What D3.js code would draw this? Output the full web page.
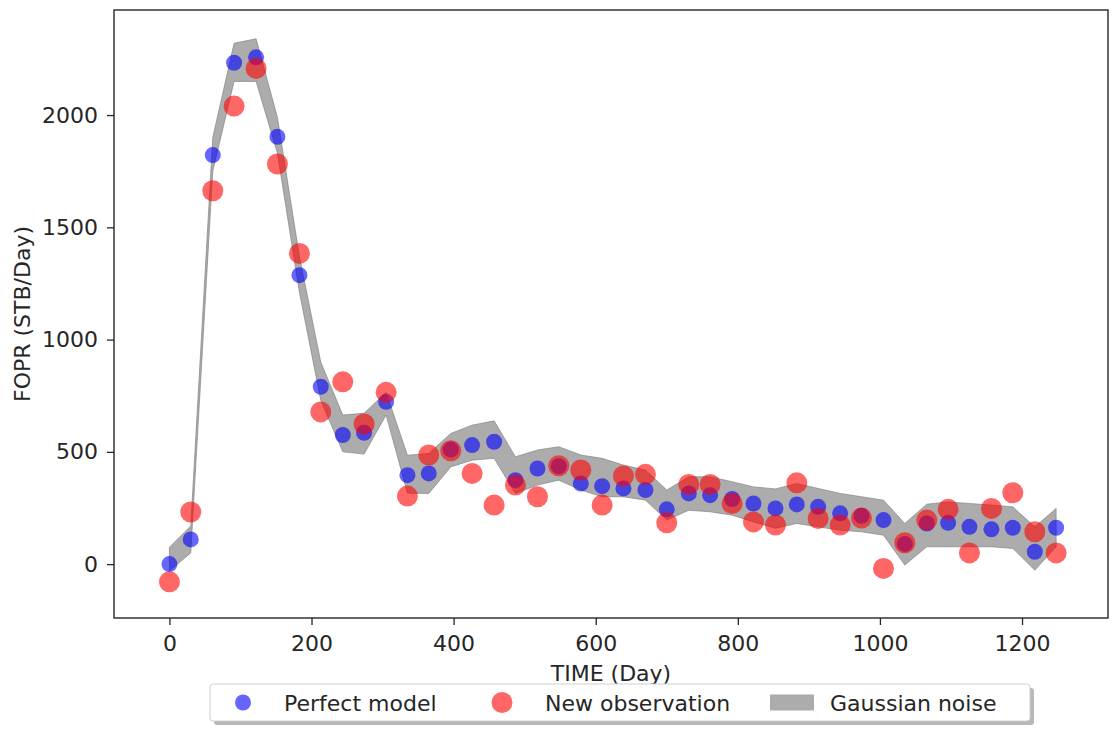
<!DOCTYPE html>
<html>
<head>
<meta charset="utf-8">
<script src="https://cdn.jsdelivr.net/npm/d3@7"></script>
<style>
  body { margin: 0; background: #fff; }
  text { font-family: "DejaVu Sans", sans-serif; fill: #262626; }
</style>
</head>
<body>
<svg id="chart"></svg>
<script>
// time axis (days) - roughly monthly report steps
const days = [0,30,61,91,122,152,183,213,244,274,305,335,365,396,426,457,487,518,548,579,609,639,670,700,731,761,792,822,853,883,913,944,974,1005,1035,1066,1096,1126,1157,1187,1218,1248]

// perfect model FOPR
const perfect = [0,110,1822,2233,2257,1903,1287,790,575,585,723,396,404,510,530,545,374,426,436,359,347,337,330,244,315,307,290,270,248,266,255,226,215,196,90,181,184,166,155,162,55,162]

// new observation FOPR
const observed = [-79,232,1663,2040,2208,1782,1384,678,812,624,765,303,486,505,404,263,352,300,438,419,263,393,400,184,355,355,270,188,174,362,203,174,205,-19,95,196,244,50,248,318,144,50]

// gaussian noise envelope
const noiseLow = [-30,50,1750,2150,2150,1830,1210,730,500,490,664,316,315,433,463,471,315,352,374,330,300,300,285,196,240,233,218,188,160,181,166,151,144,129,-4,77,77,77,77,70,-27,77]
const noiseHigh = [75,170,1900,2320,2340,1990,1370,900,664,672,765,485,493,582,619,638,478,508,523,486,471,441,419,330,389,389,367,344,335,359,337,315,300,285,181,267,277,270,263,255,166,248]

const xTicks = [0,200,400,600,800,1000,1200]
const yTicks = [0,500,1000,1500,2000]

const width = 1113
const height = 752
const margin = {left: 114, top: 10, right: 5, bottom: 134}
const fs = "22px"

let svg = d3.select("#chart")
    .attr("width", width)
    .attr("height", height)

let x = d3.scaleLinear().domain([-78, 1321]).range([margin.left, width - margin.right])
let y = d3.scaleLinear().domain([-240, 2468]).range([height - margin.bottom, margin.top])

// noise band
let area = d3.area()
    .x((d, i) => x(days[i]))
    .y0((d, i) => y(noiseLow[i]))
    .y1((d, i) => y(noiseHigh[i]))

svg.append("path")
    .datum(days)
    .attr("d", area)
    .attr("fill", "#808080")
    .attr("fill-opacity", 0.65)
    .attr("stroke", "#808080")
    .attr("stroke-opacity", 0.65)
    .attr("stroke-width", 1)

// perfect model points
svg.append("g").selectAll("circle")
    .data(perfect)
    .enter()
    .append("circle")
    .attr("cx", (d, i) => x(days[i]))
    .attr("cy", d => y(d))
    .attr("r", 8)
    .attr("fill", "blue")
    .attr("fill-opacity", 0.6)

// observation points
svg.append("g").selectAll("circle")
    .data(observed)
    .enter()
    .append("circle")
    .attr("cx", (d, i) => x(days[i]))
    .attr("cy", d => y(d))
    .attr("r", 10.5)
    .attr("fill", "red")
    .attr("fill-opacity", 0.6)

// axes
svg.append("g")
    .attr("transform", `translate(0,${height - margin.bottom})`)
    .call(d3.axisBottom(x).tickValues(xTicks).tickSize(7).tickPadding(10).tickFormat(d3.format("d")))
svg.append("g")
    .attr("transform", `translate(${margin.left},0)`)
    .call(d3.axisLeft(y).tickValues(yTicks).tickSize(7).tickPadding(9).tickFormat(d3.format("d")))

svg.selectAll(".domain").remove()
svg.selectAll(".tick line").attr("stroke", "#262626").attr("stroke-width", 1.3)
svg.selectAll(".tick text").style("font-size", fs).style("font-family", "DejaVu Sans").attr("fill", "#262626")

// frame
svg.append("rect")
    .attr("x", margin.left)
    .attr("y", margin.top)
    .attr("width", width - margin.right - margin.left)
    .attr("height", height - margin.bottom - margin.top)
    .attr("fill", "none")
    .attr("stroke", "#262626")
    .attr("stroke-width", 1.4)

// axis labels
let cx = (margin.left + width - margin.right) / 2
svg.append("text")
    .attr("x", cx)
    .attr("y", 681)
    .attr("text-anchor", "middle")
    .style("font-size", fs)
    .text("TIME (Day)")

svg.append("text")
    .attr("transform", `translate(30,${(margin.top + height - margin.bottom) / 2}) rotate(-90)`)
    .attr("text-anchor", "middle")
    .style("font-size", fs)
    .text("FOPR (STB/Day)")

// legend
const legX = 210, legY = 684, legW = 820, legH = 37
let leg = svg.append("g")
leg.append("rect")
    .attr("x", legX + 4).attr("y", legY + 4)
    .attr("width", legW).attr("height", legH)
    .attr("rx", 3)
    .attr("fill", "#888").attr("fill-opacity", 0.6)
leg.append("rect")
    .attr("x", legX).attr("y", legY)
    .attr("width", legW).attr("height", legH)
    .attr("rx", 3)
    .attr("fill", "#fff").attr("stroke", "#cfcfcf")

let ly = legY + legH / 2
leg.append("circle").attr("cx", legX + 33).attr("cy", ly).attr("r", 8).attr("fill", "blue").attr("fill-opacity", 0.6)
leg.append("text").attr("x", legX + 74).attr("y", ly + 8).style("font-size", fs).text("Perfect model")
leg.append("circle").attr("cx", legX + 292).attr("cy", ly).attr("r", 10.5).attr("fill", "red").attr("fill-opacity", 0.6)
leg.append("text").attr("x", legX + 335).attr("y", ly + 8).style("font-size", fs).text("New observation")
leg.append("rect").attr("x", legX + 560).attr("y", ly - 8).attr("width", 44).attr("height", 16).attr("fill", "#808080").attr("fill-opacity", 0.65)
leg.append("text").attr("x", legX + 620).attr("y", ly + 8).style("font-size", fs).text("Gaussian noise")
</script>
</body>
</html>
